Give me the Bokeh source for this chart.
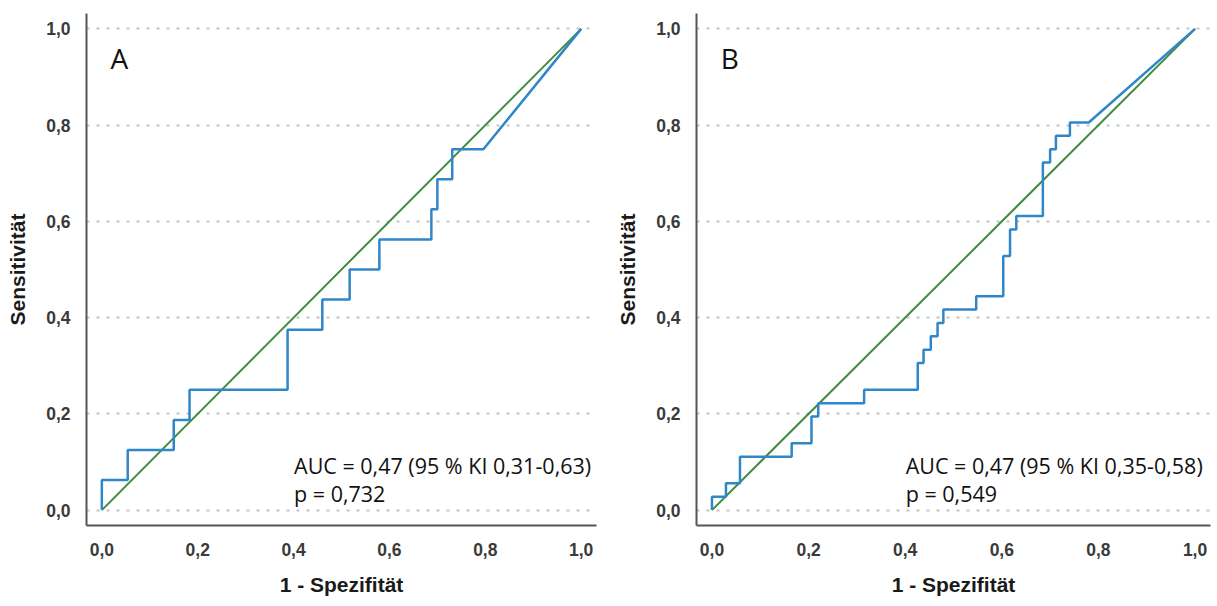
from bokeh.plotting import figure
from bokeh.layouts import row
from bokeh.models import Range1d, FixedTicker
from bokeh.core.properties import value
from bokeh.embed import file_html
from bokeh.resources import INLINE

# axis ticks shared by both panels
tick_values = [0.0, 0.2, 0.4, 0.6, 0.8, 1.0]
tick_labels = ["0,0", "0,2", "0,4", "0,6", "0,8", "1,0"]

# ROC curve A (1 - specificity, sensitivity)
fpr_a = [0.0, 0.0, 0.054, 0.054, 0.15, 0.15, 0.183, 0.183, 0.3875, 0.3875,
         0.46, 0.46, 0.517, 0.517, 0.579, 0.579, 0.6875, 0.6875, 0.70, 0.70,
         0.731, 0.731, 0.796, 1.0]
tpr_a = [0.0, 0.0625, 0.0625, 0.125, 0.125, 0.1875, 0.1875, 0.25, 0.25, 0.375,
         0.375, 0.4375, 0.4375, 0.5, 0.5, 0.5625, 0.5625, 0.625, 0.625, 0.6875,
         0.6875, 0.75, 0.75, 1.0]

# ROC curve B
fpr_b = [0.0, 0.0, 0.029, 0.029, 0.058, 0.058, 0.165, 0.165, 0.206, 0.206,
         0.22, 0.22, 0.315, 0.315, 0.426, 0.426, 0.438, 0.438, 0.453, 0.453,
         0.467, 0.467, 0.479, 0.479, 0.547, 0.547, 0.603, 0.603, 0.617, 0.617,
         0.63, 0.63, 0.685, 0.685, 0.70, 0.70, 0.712, 0.712, 0.741, 0.741,
         0.78, 1.0]
tpr_b = [0.0, 0.0278, 0.0278, 0.0556, 0.0556, 0.1111, 0.1111, 0.1389, 0.1389, 0.1944,
         0.1944, 0.2222, 0.2222, 0.25, 0.25, 0.3056, 0.3056, 0.3333, 0.3333, 0.3611,
         0.3611, 0.3889, 0.3889, 0.4167, 0.4167, 0.4444, 0.4444, 0.5278, 0.5278, 0.5833,
         0.5833, 0.6111, 0.6111, 0.7222, 0.7222, 0.75, 0.75, 0.7778, 0.7778, 0.8056,
         0.8056, 1.0]

# chance line
ref_x = [0.0, 1.0]
ref_y = [0.0, 1.0]

panel_letters = ["A", "B"]
auc_texts = ["AUC = 0,47 (95 % KI 0,31-0,63)", "AUC = 0,47 (95 % KI 0,35-0,58)"]
p_texts = ["p = 0,732", "p = 0,549"]

AXIS_FONT = "Liberation Sans"
TEXT_FONT = "Open Sans"


def roc_panel(fpr, tpr, letter, auc_text, p_text, width, height,
              border_left, border_right, border_top, border_bottom):
    p = figure(width=width, height=height, output_backend="svg",
               toolbar_location=None,
               x_range=Range1d(-0.032, 1.032), y_range=Range1d(-0.032, 1.032),
               min_border_left=border_left, min_border_right=border_right,
               min_border_top=border_top, min_border_bottom=border_bottom)
    p.outline_line_color = None
    p.background_fill_color = "white"

    overrides = {v: lab for v, lab in zip(tick_values, tick_labels)}
    for ax in (p.xaxis, p.yaxis):
        ax.ticker = FixedTicker(ticks=tick_values)
        ax.major_label_overrides = overrides
        ax.major_tick_line_color = None
        ax.minor_tick_line_color = None
        ax.axis_line_color = "#555555"
        ax.axis_line_width = 2
        ax.major_label_text_font = AXIS_FONT
        ax.major_label_text_font_style = "bold"
        ax.major_label_text_font_size = "17.5px"
        ax.major_label_text_color = "#3a3a3a"
        ax.axis_label_text_font = AXIS_FONT
        ax.axis_label_text_font_style = "bold"
        ax.axis_label_text_font_size = "21px"
        ax.axis_label_text_color = "#1a1a1a"
    p.xaxis.axis_label = "1 - Spezifität"
    p.yaxis.axis_label = "Sensitivität"
    p.xaxis.major_label_standoff = 11
    p.yaxis.major_label_standoff = 10
    p.xaxis.axis_label_standoff = 14
    p.yaxis.axis_label_standoff = 14

    p.xgrid.grid_line_color = None
    p.ygrid.ticker = FixedTicker(ticks=tick_values)
    p.ygrid.grid_line_color = "#c4c4c4"
    p.ygrid.grid_line_width = 2
    p.ygrid.grid_line_dash = "3 7"

    p.line(ref_x, ref_y, line_color="#3f8c3f", line_width=2)
    p.line(fpr, tpr, line_color="#2f86c8", line_width=2.5)

    p.text(x=[0.018], y=[0.978], text=[letter], text_font=value(TEXT_FONT),
           text_font_size="28px", text_baseline="top", text_align="left",
           text_color="#111111")
    p.text(x=[0.401, 0.401], y=[0.093, 0.035], text=[auc_text, p_text],
           text_font=value(TEXT_FONT), text_font_size="21.5px",
           text_baseline="middle", text_align="left", text_color="#111111")
    return p


pa = roc_panel(fpr_a, tpr_a, panel_letters[0], auc_texts[0], p_texts[0],
               width=610, height=604, border_left=86, border_right=14,
               border_top=13, border_bottom=79)
pb = roc_panel(fpr_b, tpr_b, panel_letters[1], auc_texts[1], p_texts[1],
               width=607, height=604, border_left=86, border_right=7,
               border_top=10, border_bottom=76)

layout = row(pa, pb)
open("out.html", "w").write(file_html(layout, INLINE))
